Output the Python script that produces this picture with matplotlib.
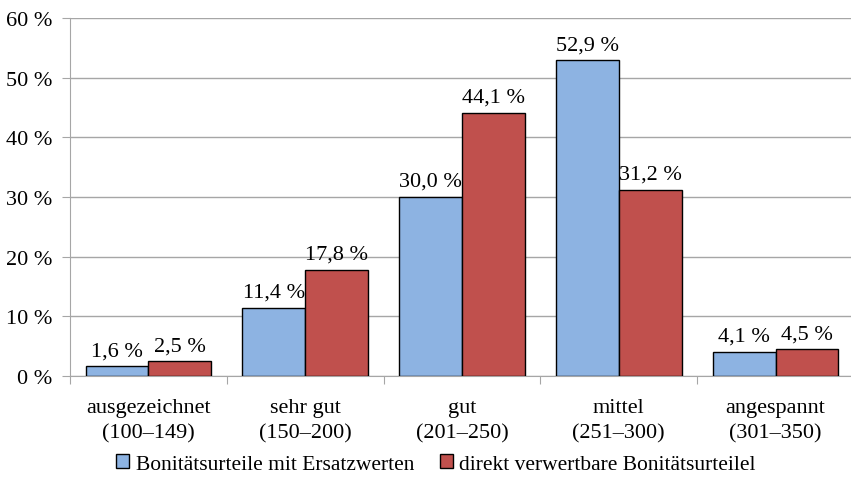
import numpy as np
import matplotlib.pyplot as plt
from matplotlib.patches import Patch

plt.rcParams['font.family'] = ['Liberation Serif', 'DejaVu Serif']

kategorien = ["ausgezeichnet\n(100–149)", "sehr gut\n(150–200)", "gut\n(201–250)",
              "mittel\n(251–300)", "angespannt\n(301–350)"]
mit_ersatz = [1.6, 11.4, 30.0, 52.9, 4.1]
direkt = [2.5, 17.8, 44.1, 31.2, 4.5]
namen = ["Bonitätsurteile mit Ersatzwerten", "direkt verwertbare Bonitätsurteilel"]
farben = ["#8DB3E2", "#C0504D"]

fs = 16
fig = plt.figure(figsize=(8.51, 4.89), dpi=100)
ax = fig.add_axes([70/851, 1 - 377/489, 784/851, 358/489])

x = np.arange(len(kategorien))
b = 0.4
for k, (werte, f) in enumerate([(mit_ersatz, farben[0]), (direkt, farben[1])]):
    pos = x - b/2 + k*b
    ax.bar(pos, werte, width=b, color=f, edgecolor="black", linewidth=1.0, zorder=3)
    for p, v in zip(pos, werte):
        ax.text(p, v + 1.0, f"{v:.1f} %".replace(".", ","), ha="center", va="bottom",
                fontsize=fs)

ax.set_xlim(-0.5, len(kategorien) - 0.5)
ax.set_ylim(0, 60)
ax.set_yticks(range(0, 61, 10))
ax.set_yticklabels([f"{v} %" for v in range(0, 61, 10)], fontsize=fs)
ax.yaxis.grid(True, color="#A6A6A6", linewidth=1.0, zorder=0)
ax.set_xticks(np.arange(-0.5, len(kategorien), 1.0))
ax.set_xticklabels([])
ax.set_xticks(x, minor=True)
ax.set_xticklabels(kategorien, minor=True, fontsize=fs, linespacing=1.4)
ax.tick_params(axis="x", which="minor", length=0, pad=16)
ax.tick_params(axis="x", which="major", length=6, color="#A6A6A6", direction="out")
ax.tick_params(axis="y", length=6, color="#A6A6A6", pad=7)
for s in ["top", "right"]:
    ax.spines[s].set_visible(False)
for s in ["left", "bottom"]:
    ax.spines[s].set_color("#A6A6A6")

handles = [Patch(facecolor=farben[i], edgecolor="black", label=namen[i]) for i in range(2)]
fig.legend(handles=handles, loc="center", bbox_to_anchor=(436/851, 1 - 465/489), ncol=2,
           frameon=False, fontsize=15.5, handlelength=0.6, handleheight=0.6,
           handletextpad=0.3, columnspacing=1.2)

fig.savefig("out.png", dpi=100)
